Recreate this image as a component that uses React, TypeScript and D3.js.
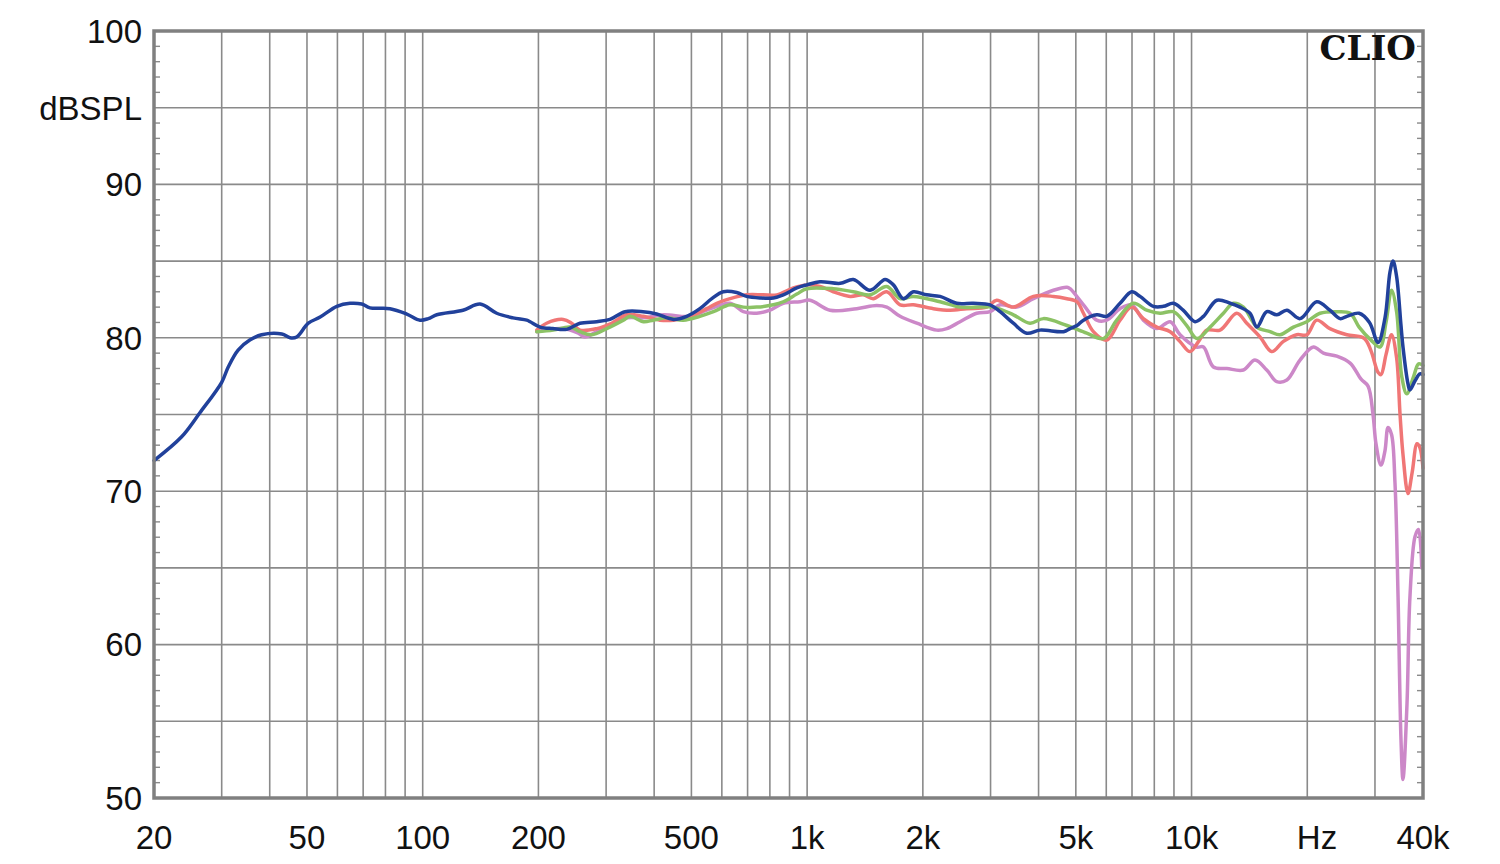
import React from "react";
import * as d3 from "d3";

const W = 1500;
const H = 864;

const blueFreq = [20, 23.6, 26.3, 30, 31.2, 33.1, 35.5, 38.1, 43, 45.2, 47, 50.4, 54.1, 59.8, 64.7, 69.4, 72.9, 82.2, 90.9, 98.4, 103.4, 108.8, 127.3, 141, 155.8, 171.8, 186.5, 190.3, 202, 218, 237, 256.5, 283.6, 307, 336, 374, 406, 449, 486, 526, 565, 605, 656, 696, 754, 817, 867, 940, 998, 1080, 1219, 1319, 1458, 1595, 1676, 1780, 1889, 2047, 2217, 2449, 2706, 2992, 3177, 3439, 3726, 4036, 4645, 4830, 5035, 5234, 5667, 6018, 6516, 6986, 7346, 7959, 8444, 8970, 9508, 10210, 10740, 11640, 12600, 13370, 14190, 14790, 15690, 16660, 17700, 19150, 21160, 22900, 24340, 25350, 27280, 29030, 30550, 31860, 32830, 33430, 34150, 35060, 35480, 36560, 36990, 38140, 39260, 40000];
const blueDb = [72.0, 73.55, 75.1, 77.1, 78.1, 79.2, 79.85, 80.2, 80.25, 80.0, 80.05, 80.95, 81.35, 82.05, 82.25, 82.2, 81.95, 81.9, 81.55, 81.15, 81.25, 81.5, 81.8, 82.2, 81.6, 81.3, 81.15, 81.05, 80.7, 80.6, 80.55, 80.95, 81.05, 81.2, 81.7, 81.7, 81.55, 81.2, 81.4, 81.9, 82.55, 83.0, 82.95, 82.7, 82.6, 82.6, 82.8, 83.25, 83.45, 83.65, 83.55, 83.8, 83.1, 83.8, 83.45, 82.55, 83.0, 82.8, 82.7, 82.25, 82.25, 82.15, 81.7, 80.95, 80.3, 80.5, 80.4, 80.6, 80.8, 81.15, 81.5, 81.4, 82.25, 83.0, 82.7, 82.05, 82.05, 82.25, 81.8, 81.05, 81.4, 82.45, 82.25, 82.0, 81.6, 80.7, 81.7, 81.5, 81.8, 81.25, 82.35, 81.8, 81.25, 81.4, 81.6, 81.0, 79.7, 81.3, 84.3, 85.0, 84.0, 80.8, 79.4, 77.0, 76.6, 77.2, 77.65, 77.6];

const greenFreq = [198, 218.6, 241.7, 256.5, 275.3, 301, 332.7, 346.3, 375, 398, 431.5, 476.4, 526, 570.5, 630, 682.5, 739.5, 817, 867, 940, 998, 1170, 1319, 1458, 1611, 1745, 1889, 2217, 2500, 2818, 3050, 3439, 3800, 4119, 4741, 5337, 5899, 6388, 7057, 7644, 8281, 8970, 9717, 10320, 11180, 12100, 12840, 13640, 14790, 16000, 16990, 18410, 19940, 21600, 23870, 25850, 27280, 29300, 30910, 32050, 33130, 34150, 35210, 36300, 37840, 38950, 40000];
const greenDb = [80.4, 80.5, 80.7, 80.4, 80.2, 80.6, 81.15, 81.4, 81.05, 81.15, 81.3, 81.15, 81.4, 81.7, 82.15, 82.0, 82.0, 82.15, 82.35, 82.85, 83.2, 83.2, 83.0, 82.8, 83.35, 82.55, 82.7, 82.35, 82.0, 82.0, 82.0, 81.5, 80.95, 81.25, 80.8, 80.3, 79.95, 81.15, 82.25, 81.8, 81.6, 81.7, 80.8, 79.95, 80.7, 81.6, 82.25, 82.0, 80.7, 80.4, 80.2, 80.7, 81.05, 81.6, 81.7, 81.6, 80.7, 79.85, 79.4, 81.0, 83.1, 81.7, 77.5, 76.35, 77.5, 78.3, 78.2];

const redFreq = [198, 210, 232, 244, 256.5, 283.6, 310, 339.5, 375, 414, 449, 496, 548, 582, 630, 696, 769, 834, 921, 998, 1080, 1170, 1294, 1400, 1486, 1611, 1745, 1889, 2130, 2355, 2602, 2932, 3113, 3439, 3878, 4372, 4741, 5035, 5234, 5555, 6018, 6516, 6986, 7492, 8121, 8797, 9335, 9910, 10420, 10960, 11860, 13110, 13920, 15080, 16170, 17300, 18770, 19940, 21160, 22900, 25350, 28110, 29300, 30550, 31100, 32050, 33130, 34150, 34860, 35480, 36560, 37500, 38590, 39260, 40000];
const redDb = [80.5, 80.95, 81.2, 80.95, 80.5, 80.6, 80.95, 81.5, 81.4, 81.15, 81.15, 81.4, 81.9, 82.25, 82.55, 82.8, 82.8, 82.8, 83.25, 83.45, 83.35, 83.0, 82.7, 82.8, 82.55, 83.0, 82.15, 82.15, 81.9, 81.8, 81.9, 82.0, 82.45, 82.0, 82.7, 82.7, 82.55, 82.35, 81.6, 80.4, 79.85, 81.15, 82.0, 81.25, 80.7, 80.4, 79.75, 79.1, 79.75, 80.5, 80.5, 81.6, 80.95, 80.05, 79.1, 79.75, 80.2, 80.2, 81.15, 80.6, 80.2, 79.97, 79.15, 77.75, 77.6, 78.9, 80.2, 78.7, 75.0, 72.4, 69.85, 71.25, 73.1, 72.85, 71.5];

const pinkFreq = [198, 230, 254, 264, 283.6, 310, 339.5, 375, 423, 496, 548, 630, 682.5, 739.5, 800, 867, 959, 1018, 1147, 1346, 1517, 1611, 1745, 1929, 2174, 2309, 2500, 2761, 2992, 3177, 3510, 3878, 4372, 4741, 4830, 5234, 5667, 6018, 6516, 6986, 7492, 8121, 8797, 9335, 10300, 10740, 11400, 12350, 13640, 14620, 15690, 16660, 17700, 19150, 20750, 22030, 23870, 25850, 27610, 28780, 29650, 30180, 31100, 31860, 32440, 33130, 33820, 34450, 35060, 35480, 36340, 36990, 38140, 38950, 39700];
const pinkDb = [80.4, 80.6, 80.3, 80.05, 80.4, 80.8, 81.3, 81.3, 81.5, 81.4, 81.8, 82.25, 81.7, 81.6, 81.8, 82.25, 82.35, 82.45, 81.8, 81.9, 82.1, 82.0, 81.4, 80.95, 80.5, 80.6, 81.05, 81.6, 81.7, 82.15, 82.0, 82.55, 83.1, 83.3, 83.2, 82.15, 81.15, 81.15, 81.9, 82.15, 81.15, 80.6, 81.05, 80.2, 79.4, 79.4, 78.1, 78.0, 77.9, 78.55, 77.9, 77.15, 77.25, 78.55, 79.4, 79.0, 78.8, 78.35, 77.3, 76.85, 75.0, 73.1, 71.7, 72.65, 74.15, 73.7, 70.55, 63.1, 53.8, 51.2, 56.1, 63.1, 67.05, 67.5, 65.0];

const yTickValues = [50, 60, 70, 80, 90, 100];
const xTickValues = [20, 50, 100, 200, 500, 1000, 2000, 5000, 10000, 40000];
const xTickLabels = ["20", "50", "100", "200", "500", "1k", "2k", "5k", "10k", "40k"];
const gridFreqs = [30, 40, 50, 60, 70, 80, 90, 100, 200, 300, 400, 500, 600, 700, 800, 900, 1000, 2000, 3000, 4000, 5000, 6000, 7000, 8000, 9000, 10000, 20000, 30000];

const series = [
  { name: "pink", f: pinkFreq, v: pinkDb, color: "#cc88c8" },
  { name: "red", f: redFreq, v: redDb, color: "#f07676" },
  { name: "green", f: greenFreq, v: greenDb, color: "#8cc265" },
  { name: "blue", f: blueFreq, v: blueDb, color: "#21419b" },
];

export default function App() {
  const L = 154, R = 1423, T = 31, B = 798;
  const x = d3.scaleLog().domain([20, 40000]).range([L, R]);
  const y = d3.scaleLinear().domain([50, 100]).range([B, T]);
  const line = d3
    .line<[number, number]>()
    .x((d) => x(d[0]))
    .y((d) => y(d[1]))
    .curve(d3.curveCatmullRom.alpha(0.5));

  const hGrid = d3.range(55, 100, 5);
  const minor = d3.range(51, 100).filter((v) => v % 5 !== 0);
  const font = "'Liberation Sans', Arial, sans-serif";
  const gridColor = "#8a8a8a";

  return (
    <svg width={W} height={H} style={{ position: "absolute", left: 0, top: 0, background: "#fff" }}>
      <rect x={0} y={0} width={W} height={H} fill="#fff" />
      {gridFreqs.map((f) => (
        <line key={"v" + f} x1={x(f)} x2={x(f)} y1={T} y2={B} stroke={gridColor} strokeWidth={1.6} />
      ))}
      {hGrid.map((v) => (
        <line key={"h" + v} x1={L} x2={R} y1={y(v)} y2={y(v)} stroke={gridColor} strokeWidth={1.6} />
      ))}
      {minor.map((v) => (
        <g key={"m" + v}>
          <line x1={L} x2={L + 6} y1={y(v)} y2={y(v)} stroke={gridColor} strokeWidth={1.4} />
          <line x1={R - 6} x2={R} y1={y(v)} y2={y(v)} stroke={gridColor} strokeWidth={1.4} />
        </g>
      ))}
      {series.map((s) => (
        <path
          key={s.name}
          d={line(s.f.map((f, i) => [f, s.v[i]] as [number, number])) || ""}
          fill="none"
          stroke={s.color}
          strokeWidth={3.5}
          strokeLinejoin="round"
          strokeLinecap="round"
        />
      ))}
      <rect x={L} y={T} width={R - L} height={B - T} fill="none" stroke="#808080" strokeWidth={3.5} />
      {yTickValues.map((v) => (
        <text key={"yl" + v} x={142} y={y(v)} dy="0.36em" textAnchor="end" fontFamily={font} fontSize={33} fill="#111">
          {v}
        </text>
      ))}
      <text x={142} y={y(95)} dy="0.36em" textAnchor="end" fontFamily={font} fontSize={33} fill="#111">
        dBSPL
      </text>
      {xTickValues.map((f, i) => (
        <text key={"xl" + f} x={x(f)} y={849} textAnchor="middle" fontFamily={font} fontSize={33} fill="#111">
          {xTickLabels[i]}
        </text>
      ))}
      <text x={1317} y={849} textAnchor="middle" fontFamily={font} fontSize={33} fill="#111">
        Hz
      </text>
      <text x={1416} y={60} textAnchor="end" fontFamily="'DejaVu Serif', 'Liberation Serif', serif" fontWeight="bold" fontSize={34} fill="#111">
        CLIO
      </text>
    </svg>
  );
}
